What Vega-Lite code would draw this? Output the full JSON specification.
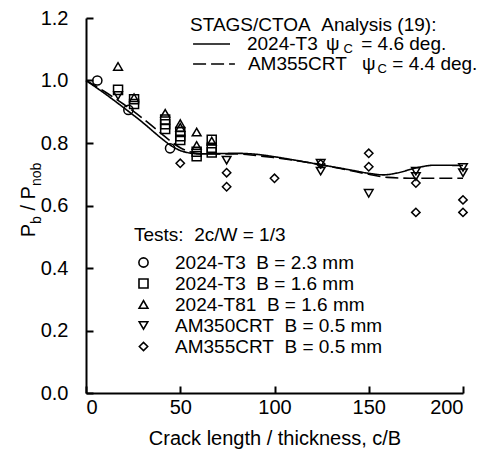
{
  "$schema": "https://vega.github.io/schema/vega-lite/v6.json",
  "width": 377,
  "height": 375,
  "autosize": {"type": "none"},
  "padding": {"left": 86, "top": 18, "right": 21, "bottom": 69},
  "background": "white",
  "config": {
    "view": {"stroke": null},
    "font": "Liberation Sans",
    "axis": {
      "domainColor": "black",
      "domainWidth": 2,
      "ticks": false,
      "grid": true,
      "gridColor": "black",
      "gridOpacity": 1,
      "gridWidth": 2,
      "labelFont": "Liberation Sans",
      "labelFontSize": 20,
      "labelColor": "black",
      "titleFont": "Liberation Sans",
      "titleFontSize": 20,
      "titleFontWeight": "normal",
      "titleColor": "black"
    },
    "axisX": {"gridDash": [0, 368, 7, 2000]},
    "axisY": {"gridDash": [7, 2000]},
    "legend": {
      "titleFont": "Liberation Sans",
      "titleFontSize": 19,
      "titleFontWeight": "normal",
      "titleColor": "black",
      "titleLimit": 0,
      "labelFont": "Liberation Sans",
      "labelFontSize": 19,
      "labelColor": "black",
      "labelLimit": 0,
      "symbolStrokeColor": "black",
      "symbolStrokeWidth": 1.6
    }
  },
  "datasets": {
    "curves": [
      {"curve": "2024-T3", "c": 0, "p": 1.0},
      {"curve": "2024-T3", "c": 10, "p": 0.958},
      {"curve": "2024-T3", "c": 20, "p": 0.913},
      {"curve": "2024-T3", "c": 30, "p": 0.866},
      {"curve": "2024-T3", "c": 40, "p": 0.815},
      {"curve": "2024-T3", "c": 45, "p": 0.792},
      {"curve": "2024-T3", "c": 50, "p": 0.776},
      {"curve": "2024-T3", "c": 55, "p": 0.768},
      {"curve": "2024-T3", "c": 60, "p": 0.765},
      {"curve": "2024-T3", "c": 70, "p": 0.766},
      {"curve": "2024-T3", "c": 80, "p": 0.767},
      {"curve": "2024-T3", "c": 90, "p": 0.764},
      {"curve": "2024-T3", "c": 100, "p": 0.756},
      {"curve": "2024-T3", "c": 110, "p": 0.746},
      {"curve": "2024-T3", "c": 125, "p": 0.73},
      {"curve": "2024-T3", "c": 140, "p": 0.714},
      {"curve": "2024-T3", "c": 150, "p": 0.703},
      {"curve": "2024-T3", "c": 158, "p": 0.698},
      {"curve": "2024-T3", "c": 165, "p": 0.704},
      {"curve": "2024-T3", "c": 175, "p": 0.72},
      {"curve": "2024-T3", "c": 185, "p": 0.729},
      {"curve": "2024-T3", "c": 200, "p": 0.728},
      {"curve": "AM355CRT", "c": 0, "p": 1.0},
      {"curve": "AM355CRT", "c": 10, "p": 0.964},
      {"curve": "AM355CRT", "c": 20, "p": 0.924},
      {"curve": "AM355CRT", "c": 30, "p": 0.879},
      {"curve": "AM355CRT", "c": 40, "p": 0.83},
      {"curve": "AM355CRT", "c": 45, "p": 0.805},
      {"curve": "AM355CRT", "c": 50, "p": 0.785},
      {"curve": "AM355CRT", "c": 55, "p": 0.772},
      {"curve": "AM355CRT", "c": 60, "p": 0.766},
      {"curve": "AM355CRT", "c": 70, "p": 0.765},
      {"curve": "AM355CRT", "c": 80, "p": 0.765},
      {"curve": "AM355CRT", "c": 90, "p": 0.76},
      {"curve": "AM355CRT", "c": 100, "p": 0.753},
      {"curve": "AM355CRT", "c": 110, "p": 0.745},
      {"curve": "AM355CRT", "c": 125, "p": 0.73},
      {"curve": "AM355CRT", "c": 140, "p": 0.712},
      {"curve": "AM355CRT", "c": 150, "p": 0.7},
      {"curve": "AM355CRT", "c": 160, "p": 0.69},
      {"curve": "AM355CRT", "c": 175, "p": 0.687},
      {"curve": "AM355CRT", "c": 200, "p": 0.687}
    ],
    "tests": [
      {"test": "2024-T3\u00a0\u00a0B = 2.3 mm", "c": 6, "p": 1.0},
      {"test": "2024-T3\u00a0\u00a0B = 2.3 mm", "c": 22.5, "p": 0.906},
      {"test": "2024-T3\u00a0\u00a0B = 2.3 mm", "c": 44.6, "p": 0.783},
      {"test": "2024-T3\u00a0\u00a0B = 1.6 mm", "c": 17, "p": 0.97},
      {"test": "2024-T3\u00a0\u00a0B = 1.6 mm", "c": 25.5, "p": 0.94},
      {"test": "2024-T3\u00a0\u00a0B = 1.6 mm", "c": 25.5, "p": 0.925},
      {"test": "2024-T3\u00a0\u00a0B = 1.6 mm", "c": 42, "p": 0.875},
      {"test": "2024-T3\u00a0\u00a0B = 1.6 mm", "c": 42, "p": 0.86},
      {"test": "2024-T3\u00a0\u00a0B = 1.6 mm", "c": 42, "p": 0.845},
      {"test": "2024-T3\u00a0\u00a0B = 1.6 mm", "c": 50, "p": 0.835},
      {"test": "2024-T3\u00a0\u00a0B = 1.6 mm", "c": 50, "p": 0.822},
      {"test": "2024-T3\u00a0\u00a0B = 1.6 mm", "c": 50, "p": 0.81},
      {"test": "2024-T3\u00a0\u00a0B = 1.6 mm", "c": 58.7, "p": 0.772},
      {"test": "2024-T3\u00a0\u00a0B = 1.6 mm", "c": 58.7, "p": 0.758},
      {"test": "2024-T3\u00a0\u00a0B = 1.6 mm", "c": 66.7, "p": 0.81},
      {"test": "2024-T3\u00a0\u00a0B = 1.6 mm", "c": 66.7, "p": 0.785},
      {"test": "2024-T3\u00a0\u00a0B = 1.6 mm", "c": 66.7, "p": 0.77},
      {"test": "2024-T81\u00a0\u00a0B = 1.6 mm", "c": 17, "p": 1.045},
      {"test": "2024-T81\u00a0\u00a0B = 1.6 mm", "c": 25.5, "p": 0.945},
      {"test": "2024-T81\u00a0\u00a0B = 1.6 mm", "c": 42, "p": 0.895},
      {"test": "2024-T81\u00a0\u00a0B = 1.6 mm", "c": 50, "p": 0.862},
      {"test": "2024-T81\u00a0\u00a0B = 1.6 mm", "c": 50, "p": 0.85},
      {"test": "2024-T81\u00a0\u00a0B = 1.6 mm", "c": 58.7, "p": 0.835},
      {"test": "2024-T81\u00a0\u00a0B = 1.6 mm", "c": 58.7, "p": 0.792},
      {"test": "2024-T81\u00a0\u00a0B = 1.6 mm", "c": 66.7, "p": 0.806},
      {"test": "AM350CRT\u00a0\u00a0B = 0.5 mm", "c": 17, "p": 0.952},
      {"test": "AM350CRT\u00a0\u00a0B = 0.5 mm", "c": 74.6, "p": 0.745},
      {"test": "AM350CRT\u00a0\u00a0B = 0.5 mm", "c": 124.5, "p": 0.735},
      {"test": "AM350CRT\u00a0\u00a0B = 0.5 mm", "c": 124.5, "p": 0.71},
      {"test": "AM350CRT\u00a0\u00a0B = 0.5 mm", "c": 150, "p": 0.639},
      {"test": "AM350CRT\u00a0\u00a0B = 0.5 mm", "c": 175, "p": 0.71},
      {"test": "AM350CRT\u00a0\u00a0B = 0.5 mm", "c": 175, "p": 0.693},
      {"test": "AM350CRT\u00a0\u00a0B = 0.5 mm", "c": 200, "p": 0.722},
      {"test": "AM350CRT\u00a0\u00a0B = 0.5 mm", "c": 200, "p": 0.705},
      {"test": "AM355CRT\u00a0\u00a0B = 0.5 mm", "c": 50, "p": 0.735},
      {"test": "AM355CRT\u00a0\u00a0B = 0.5 mm", "c": 74.6, "p": 0.705},
      {"test": "AM355CRT\u00a0\u00a0B = 0.5 mm", "c": 74.6, "p": 0.66},
      {"test": "AM355CRT\u00a0\u00a0B = 0.5 mm", "c": 100, "p": 0.687},
      {"test": "AM355CRT\u00a0\u00a0B = 0.5 mm", "c": 124.5, "p": 0.733},
      {"test": "AM355CRT\u00a0\u00a0B = 0.5 mm", "c": 150, "p": 0.767},
      {"test": "AM355CRT\u00a0\u00a0B = 0.5 mm", "c": 150, "p": 0.724},
      {"test": "AM355CRT\u00a0\u00a0B = 0.5 mm", "c": 175, "p": 0.672},
      {"test": "AM355CRT\u00a0\u00a0B = 0.5 mm", "c": 175, "p": 0.578},
      {"test": "AM355CRT\u00a0\u00a0B = 0.5 mm", "c": 200, "p": 0.618},
      {"test": "AM355CRT\u00a0\u00a0B = 0.5 mm", "c": 200, "p": 0.578}
    ],
    "keys": [
      {"curve": "2024-T3", "c": 56.8, "c2": 76.4, "p": 1.1168},
      {"curve": "AM355CRT", "c": 56.8, "c2": 79.0, "p": 1.0528}
    ],
    "notes": [
      {"text": "STAGS/CTOA\u00a0\u00a0Analysis (19):", "c": 55.2, "p": 1.1776},
      {"text": "2024-T3", "c": 85.4, "p": 1.1168},
      {"text": "ψ", "c": 127.3, "p": 1.1168},
      {"text": "= 4.6 deg.", "c": 146.0, "p": 1.1168},
      {"text": "AM355CRT", "c": 85.9, "p": 1.0528},
      {"text": "ψ", "c": 146.4, "p": 1.0528},
      {"text": "= 4.4 deg.", "c": 162.5, "p": 1.0528}
    ],
    "subs": [
      {"text": "C", "c": 136.6, "p": 1.1168},
      {"text": "C", "c": 154.7, "p": 1.0528}
    ],
    "ytitle": [
      {"text": "P", "c": -27.1, "p": 0.4986},
      {"text": "/ P", "c": -27.1, "p": 0.584}
    ],
    "ytitlesub": [
      {"text": "b", "c": -27.1, "p": 0.5412},
      {"text": "nob", "c": -27.1, "p": 0.6621}
    ]
  },
  "layer": [
    {
      "data": {"name": "curves"},
      "mark": {"type": "line", "color": "black", "strokeWidth": 1.6, "interpolate": "monotone"},
      "encoding": {
        "x": {
          "field": "c", "type": "quantitative",
          "scale": {"domain": [0, 200], "nice": false, "zero": false},
          "axis": {"values": [0, 50, 100, 150, 200], "title": "Crack length / thickness, c/B", "labelPadding": 4, "titlePadding": 11}
        },
        "y": {
          "field": "p", "type": "quantitative",
          "scale": {"domain": [0, 1.2], "nice": false, "zero": false},
          "axis": {"values": [0, 0.2, 0.4, 0.6, 0.8, 1.0, 1.2], "format": ".1f", "title": null, "labelPadding": 18}
        },
        "strokeDash": {
          "field": "curve", "type": "nominal",
          "scale": {"domain": ["2024-T3", "AM355CRT"], "range": [[1, 0], [13, 5]]},
          "legend": null
        }
      }
    },
    {
      "data": {"name": "keys"},
      "mark": {"type": "rule", "color": "black", "strokeWidth": 1.6},
      "encoding": {
        "x": {"field": "c", "type": "quantitative"},
        "x2": {"field": "c2"},
        "y": {"field": "p", "type": "quantitative"},
        "strokeDash": {"field": "curve", "type": "nominal", "legend": null}
      }
    },
    {
      "data": {"name": "tests"},
      "mark": {"type": "point", "filled": false, "color": "black", "strokeWidth": 1.5, "opacity": 1},
      "encoding": {
        "x": {"field": "c", "type": "quantitative"},
        "y": {"field": "p", "type": "quantitative"},
        "shape": {
          "field": "test", "type": "nominal",
          "scale": {
            "domain": ["2024-T3\u00a0\u00a0B = 2.3 mm", "2024-T3\u00a0\u00a0B = 1.6 mm", "2024-T81\u00a0\u00a0B = 1.6 mm", "AM350CRT\u00a0\u00a0B = 0.5 mm", "AM355CRT\u00a0\u00a0B = 0.5 mm"],
            "range": ["circle", "square", "triangle-up", "triangle-down", "diamond"]
          },
          "legend": {
            "title": "Tests:\u00a0\u00a02c/W = 1/3",
            "orient": "none",
            "legendX": 48,
            "legendY": 208,
            "labelOffset": 22,
            "rowPadding": 1,
            "titlePadding": 8
          }
        },
        "size": {
          "field": "test", "type": "nominal",
          "scale": {
            "domain": ["2024-T3\u00a0\u00a0B = 2.3 mm", "2024-T3\u00a0\u00a0B = 1.6 mm", "2024-T81\u00a0\u00a0B = 1.6 mm", "AM350CRT\u00a0\u00a0B = 0.5 mm", "AM355CRT\u00a0\u00a0B = 0.5 mm"],
            "range": [85, 70, 85, 100, 140]
          },
          "legend": {
            "title": "Tests:\u00a0\u00a02c/W = 1/3",
            "orient": "none",
            "legendX": 48,
            "legendY": 208,
            "labelOffset": 22,
            "rowPadding": 1,
            "titlePadding": 8
          }
        }
      }
    },
    {
      "data": {"name": "notes"},
      "mark": {"type": "text", "align": "left", "baseline": "middle", "fontSize": 19, "color": "black", "font": "Liberation Sans"},
      "encoding": {
        "x": {"field": "c", "type": "quantitative"},
        "y": {"field": "p", "type": "quantitative"},
        "text": {"field": "text"}
      }
    },
    {
      "data": {"name": "subs"},
      "mark": {"type": "text", "align": "left", "baseline": "middle", "fontSize": 13, "dy": 5, "color": "black", "font": "Liberation Sans"},
      "encoding": {
        "x": {"field": "c", "type": "quantitative"},
        "y": {"field": "p", "type": "quantitative"},
        "text": {"field": "text"}
      }
    },
    {
      "data": {"name": "ytitle"},
      "mark": {"type": "text", "align": "left", "baseline": "alphabetic", "angle": 270, "fontSize": 20, "color": "black", "font": "Liberation Sans"},
      "encoding": {
        "x": {"field": "c", "type": "quantitative"},
        "y": {"field": "p", "type": "quantitative"},
        "text": {"field": "text"}
      }
    },
    {
      "data": {"name": "ytitlesub"},
      "mark": {"type": "text", "align": "left", "baseline": "alphabetic", "angle": 270, "fontSize": 14, "dy": 6, "color": "black", "font": "Liberation Sans"},
      "encoding": {
        "x": {"field": "c", "type": "quantitative"},
        "y": {"field": "p", "type": "quantitative"},
        "text": {"field": "text"}
      }
    }
  ]
}
